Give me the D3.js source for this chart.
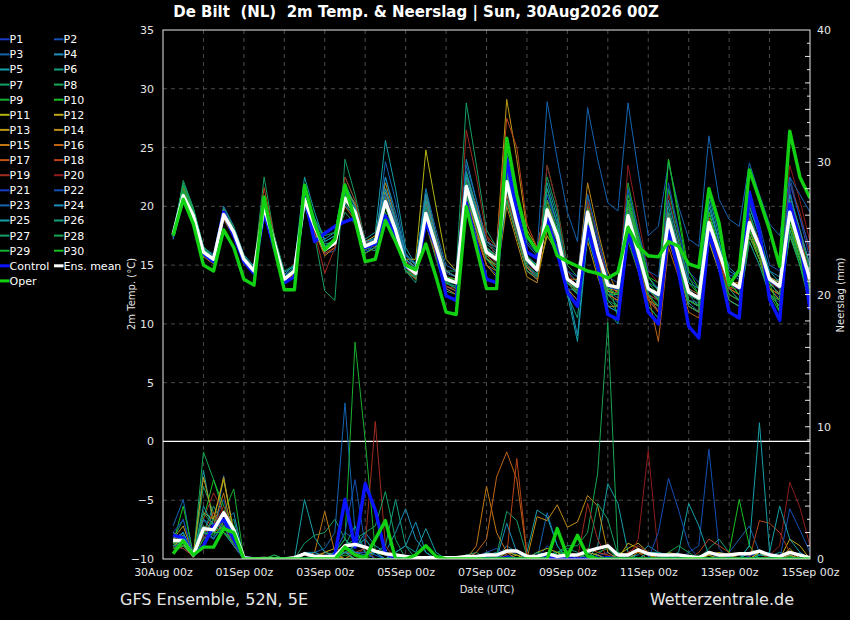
<!DOCTYPE html>
<html>
<head>
<meta charset="utf-8">
<script src="https://cdn.jsdelivr.net/npm/d3@7"></script>
<style>
  html, body { margin: 0; padding: 0; background: #000; }
  svg { display: block; font-family: "DejaVu Sans", sans-serif; }
</style>
</head>
<body>
<script>
// forecast steps, hours after 30Aug 00z
const hours = d3.range(6, 385, 6);
const dayTicks = [0, 48, 96, 144, 192, 240, 288, 336, 384];
const dayLabels = ["30Aug 00z", "01Sep 00z", "03Sep 00z", "05Sep 00z", "07Sep 00z",
  "09Sep 00z", "11Sep 00z", "13Sep 00z", "15Sep 00z"];
const tempTicks = [-10, -5, 0, 5, 10, 15, 20, 25, 30, 35];
const rainTicks = [0, 10, 20, 30, 40];

const memberNames = d3.range(1, 31).map(i => "P" + i);
const memberColors = ["#1a3cc8", "#1450b4", "#1464b0", "#1890b8", "#14a0a8", "#14a080", "#14a064",
  "#14a850", "#18b030", "#18c020", "#b4b414", "#c0a814", "#bc9814", "#c08c14", "#c07814",
  "#c06414", "#c05414", "#b84418", "#a02c20", "#901c1c"];

// 2m temperature (°C)
const controlTemp = [17.5, 20.8, 19.0, 16.0, 15.3, 19.5, 17.5, 15.3, 14.3, 19.5, 16.5, 13.5, 14.0, 20.8, 17.0, 17.7,
  18.3, 18.7, 19.0, 16.5, 16.8, 19.2, 17.5, 14.9, 14.4, 18.6, 16.6, 12.4, 12.0, 20.3, 16.9, 13.8,
  13.5, 24.0, 19.5, 16.1, 15.6, 18.9, 16.1, 12.7, 11.5, 18.3, 14.9, 10.8, 10.4, 17.8, 14.9, 11.0,
  10.0, 18.0, 14.4, 9.8, 8.8, 17.8, 14.9, 11.0, 10.5, 21.2, 17.8, 12.1, 10.3, 20.2, 17.2, 11.2];
const meanTemp = [17.6, 20.9, 19.2, 16.1, 15.5, 19.3, 17.8, 15.5, 14.5, 20.0, 16.9, 13.8, 14.5, 20.6, 18.3, 16.3,
  16.9, 20.7, 19.5, 16.6, 17.0, 20.4, 18.0, 15.0, 14.3, 19.4, 16.6, 13.8, 13.5, 21.7, 18.9, 16.1,
  15.5, 22.1, 18.6, 15.5, 14.6, 19.7, 17.5, 13.8, 13.2, 19.5, 16.1, 13.3, 13.1, 19.2, 16.1, 13.0,
  12.5, 18.9, 15.8, 12.7, 12.2, 18.6, 16.1, 13.6, 13.1, 18.6, 16.6, 13.8, 13.2, 19.5, 16.6, 13.8];
const operTemp = [17.5, 20.6, 18.5, 15.0, 14.5, 18.0, 16.5, 13.8, 13.3, 20.8, 16.5, 12.9, 12.9, 21.8, 18.5, 16.3,
  17.2, 21.8, 18.8, 15.3, 15.5, 18.8, 17.0, 15.0, 14.6, 16.8, 14.0, 11.0, 10.8, 20.0, 16.5, 13.0,
  13.0, 25.8, 21.0, 17.5, 16.2, 18.3, 15.8, 15.3, 14.9, 14.5, 14.3, 13.9, 14.4, 18.2, 16.6, 15.8,
  15.7, 17.0, 16.6, 15.1, 14.8, 21.5, 18.6, 13.3, 14.6, 23.1, 20.6, 18.0, 14.9, 26.4, 22.5, 20.7];
const memberTemp = [
  "17.3 20.5 18.8 15.8 15.2 19.0 17.4 15.2 14.2 19.8 16.6 13.5 14.2 20.2 17.8 16.5 17.2 20.2 19.0 16.2 16.5 21.5 18.5 15.2 14.0 18.5 16.0 13.2 12.8 20.5 17.8 15.0 14.2 21.0 17.5 14.8 13.8 20.5 17.8 13.5 12.5 21.0 17.0 13.8 12.5 18.0 15.2 12.0 11.2 17.5 14.8 12.0 11.5 19.5 16.5 13.0 12.0 20.5 17.5 13.0 12.2 21.5 17.0 12.5",
  "17.8 21.2 19.5 16.3 15.7 19.8 18.0 15.6 14.6 20.3 17.2 14.1 14.8 21.0 18.6 16.0 16.2 21.0 19.8 16.8 17.3 22.5 19.0 15.5 14.8 20.2 17.2 14.3 14.0 22.5 19.5 16.2 15.8 23.5 19.5 15.8 14.8 21.0 18.0 13.0 12.0 18.5 15.0 12.5 12.0 20.5 17.5 14.0 13.0 21.5 18.0 14.5 13.5 17.5 14.5 12.0 11.5 17.0 15.0 12.5 11.8 22.5 19.0 15.5",
  "17.5 21.0 19.3 16.2 15.4 19.5 17.9 15.4 14.4 19.6 16.8 14.0 14.9 20.8 18.9 17.0 17.5 20.0 19.2 16.0 16.8 23.8 20.5 16.0 14.5 18.8 15.8 13.0 12.5 21.0 18.5 15.5 15.0 22.5 18.8 15.5 15.0 19.0 16.5 13.0 12.8 20.0 16.5 12.8 12.2 18.5 15.5 12.5 11.5 19.0 15.5 12.0 11.8 18.0 16.0 14.2 13.8 19.5 17.0 14.0 13.5 18.5 15.5 13.0",
  "17.2 21.5 19.8 16.5 15.9 20.0 18.3 15.9 14.9 20.5 17.5 14.4 14.9 21.5 19.0 17.2 17.8 21.8 20.2 17.0 17.2 21.0 18.5 14.8 13.8 19.8 16.8 13.5 13.0 24.0 20.5 17.0 16.2 24.5 20.5 16.8 15.8 22.0 19.0 14.5 13.5 19.0 15.8 12.8 11.8 20.0 16.8 13.2 12.0 18.0 15.0 11.8 11.0 21.0 17.5 14.8 14.0 17.5 15.5 13.5 13.8 20.0 17.0 14.5",
  "17.9 21.8 19.6 16.4 15.8 19.6 18.0 15.6 14.8 20.2 17.0 14.2 15.0 22.5 19.5 17.0 17.5 21.5 20.2 17.2 17.8 25.6 21.5 16.5 15.0 21.0 17.5 14.5 14.0 22.0 19.0 16.0 15.2 21.5 18.0 15.0 14.2 20.5 18.0 13.0 11.5 17.5 14.5 11.5 11.0 19.5 16.0 12.8 12.2 19.5 16.5 13.0 12.5 20.5 17.0 14.0 13.0 19.0 17.0 14.5 13.5 19.5 17.5 15.0",
  "17.7 21.0 19.1 16.0 15.3 19.0 17.5 15.3 14.3 20.0 16.7 13.7 14.0 20.0 18.0 16.8 17.0 22.0 20.0 16.5 16.2 20.0 17.5 14.5 13.5 19.0 16.2 13.5 13.5 23.0 20.0 16.8 16.0 22.0 18.5 15.2 14.5 21.5 18.5 12.5 10.5 18.5 15.5 12.0 11.0 21.5 17.5 14.0 12.8 20.0 16.5 12.5 11.5 17.0 14.5 12.5 12.0 18.0 16.0 13.5 12.5 19.0 16.0 13.0",
  "17.4 22.2 19.9 16.6 15.6 19.8 18.2 15.8 14.8 22.5 17.5 14.0 14.3 21.8 17.5 12.8 12.0 24.0 21.0 17.0 17.5 21.0 18.0 14.8 14.5 21.5 17.5 14.5 14.5 28.8 23.5 18.0 16.5 23.0 19.0 15.5 14.5 19.0 17.0 13.5 13.0 18.0 15.0 12.0 11.5 19.0 16.0 12.5 12.0 18.5 15.5 12.0 11.5 19.0 16.5 13.0 12.5 18.0 16.0 13.0 12.0 19.0 16.0 12.0",
  "17.6 20.8 19.0 16.2 15.6 19.2 17.6 15.4 14.5 19.5 16.5 13.8 14.8 20.5 18.8 17.5 17.8 22.5 20.5 16.8 16.5 19.5 17.0 14.5 13.8 18.5 15.5 12.8 12.5 21.5 18.5 15.5 14.5 20.5 17.5 14.5 13.8 23.5 20.0 15.0 14.0 21.0 17.5 14.0 10.5 17.0 14.5 11.5 10.5 18.5 15.0 12.0 11.5 18.5 16.0 13.5 12.5 20.0 17.5 14.0 13.0 21.0 18.0 14.5",
  "17.5 21.3 19.4 16.1 15.5 19.4 17.7 15.5 14.4 20.4 17.1 13.9 14.5 20.8 18.5 16.5 16.8 20.5 19.5 16.5 17.0 20.8 18.2 15.2 14.2 19.5 16.5 13.8 13.8 20.0 17.5 15.8 15.5 22.5 18.5 15.5 15.0 18.5 16.5 13.5 13.0 20.5 16.5 13.0 12.5 22.0 18.0 14.0 12.8 21.5 17.5 13.5 12.5 18.0 15.5 13.0 12.5 17.5 15.5 13.0 12.5 17.5 15.0 12.5",
  "17.6 21.6 19.6 16.3 15.6 19.5 17.9 15.6 14.6 20.1 17.0 13.9 14.6 20.4 18.2 16.2 17.0 20.5 19.2 16.4 16.8 20.2 17.8 14.8 14.2 19.2 16.4 13.6 13.4 21.5 18.8 16.0 15.4 22.0 18.5 15.4 14.5 19.5 17.5 13.8 13.0 19.0 16.0 13.0 13.0 21.0 17.5 14.0 13.5 24.0 19.0 14.0 12.5 19.5 16.5 13.5 12.5 19.5 16.5 13.0 12.0 20.0 16.5 13.0",
  "17.4 20.5 18.9 15.9 15.3 19.1 17.6 15.3 14.3 20.0 16.8 13.7 14.4 20.6 18.2 16.2 17.0 21.0 19.8 16.8 17.0 20.8 18.5 15.5 15.5 24.8 20.0 15.5 14.5 21.0 18.0 15.5 15.0 20.5 17.5 14.8 14.0 17.5 16.0 13.5 13.0 18.5 15.5 12.8 12.5 20.0 16.5 13.0 12.5 19.5 16.0 12.5 12.0 18.5 16.0 13.5 13.0 18.0 15.5 13.0 12.5 17.5 15.5 13.5",
  "17.7 21.1 19.3 16.2 15.6 19.4 17.8 15.5 14.5 20.2 17.0 13.8 14.5 20.5 18.3 16.4 17.0 20.5 19.5 16.8 17.2 21.2 18.8 15.5 14.8 20.5 17.2 14.0 13.5 22.0 19.2 16.5 15.8 23.0 19.0 15.5 14.8 20.0 17.5 13.5 12.5 18.0 15.5 13.0 12.8 20.5 17.0 13.0 12.0 18.0 15.5 12.5 12.0 17.5 15.0 13.0 13.5 18.5 16.5 14.0 13.5 18.5 16.0 13.5",
  "17.5 20.7 19.0 16.0 15.4 19.2 17.7 15.4 14.4 19.9 16.8 13.7 14.4 20.4 18.2 16.3 16.9 20.5 19.3 16.5 16.9 20.3 17.9 15.0 14.3 19.5 16.8 14.0 13.8 22.5 20.0 17.0 16.5 29.1 24.0 18.0 16.5 20.5 17.0 13.5 12.5 17.0 14.0 11.5 11.5 18.0 15.0 12.0 11.5 18.0 15.0 12.0 11.5 19.5 16.5 13.5 13.5 19.0 16.5 13.5 12.5 18.5 16.0 13.0",
  "17.8 21.4 19.5 16.3 15.7 19.7 18.0 15.7 14.7 20.5 17.2 14.0 14.6 20.8 18.5 16.5 17.2 21.5 20.2 17.0 17.5 22.0 19.0 15.8 15.0 21.0 17.5 14.5 14.0 21.0 18.0 15.0 14.0 20.0 17.0 14.0 13.5 18.0 16.5 13.8 13.8 22.0 18.0 14.5 12.5 17.5 14.5 11.0 10.0 17.0 14.5 11.5 11.0 17.0 14.5 12.0 11.5 17.5 15.5 12.5 11.5 18.0 15.5 12.5",
  "17.3 20.3 18.7 15.7 15.1 18.9 17.4 15.2 14.2 19.7 16.5 13.5 14.2 20.2 17.8 15.8 16.5 20.0 18.8 16.0 16.5 20.0 17.5 14.8 14.0 19.0 16.2 13.2 12.8 20.5 18.0 15.5 14.8 21.5 18.0 14.8 14.0 19.0 17.0 13.0 12.0 18.5 15.5 12.5 12.0 19.5 16.0 12.5 11.0 17.5 14.5 11.5 11.0 18.5 15.5 12.5 12.0 17.5 15.5 13.0 12.5 20.0 17.5 14.0",
  "17.6 21.0 19.2 16.1 15.5 19.3 17.8 15.5 14.5 20.0 16.9 13.8 14.5 20.6 18.4 16.4 17.0 20.8 19.5 16.6 16.8 20.0 17.6 14.5 13.8 18.5 15.8 13.0 12.5 20.0 17.5 15.0 14.5 21.0 17.5 14.5 13.8 19.5 17.5 13.5 12.8 19.0 16.0 13.5 13.0 20.0 16.5 12.5 8.5 16.5 14.0 11.0 10.5 18.0 15.5 13.0 12.5 18.5 16.0 13.0 12.0 19.5 16.5 13.5",
  "17.4 20.9 19.1 16.0 15.4 19.2 17.7 15.4 14.4 19.8 16.7 13.6 14.3 20.3 18.2 16.2 16.8 20.5 19.2 16.3 16.8 21.0 18.5 15.5 14.5 20.0 17.0 14.0 13.8 21.5 18.5 15.8 15.0 22.5 19.0 15.5 14.5 20.0 17.5 13.8 13.0 19.0 15.5 12.5 12.0 19.0 15.5 12.0 11.0 18.0 15.0 12.0 11.5 19.0 16.0 13.0 12.5 18.5 16.0 13.0 12.5 19.5 16.5 13.5",
  "17.6 21.5 19.5 16.2 15.6 19.5 17.9 15.6 14.6 21.6 17.5 14.0 14.5 20.5 18.0 16.0 16.5 21.0 19.8 17.0 17.0 20.5 18.0 15.0 14.5 20.5 17.5 14.5 14.0 22.5 20.0 17.5 16.5 27.5 25.0 18.5 16.5 20.5 17.5 14.0 12.5 20.0 16.5 13.0 12.5 20.0 16.5 13.0 12.0 19.5 16.5 13.0 12.5 19.0 16.0 13.0 13.5 19.0 17.0 14.0 13.0 20.5 18.0 15.0",
  "17.5 20.6 19.0 16.0 15.4 19.1 17.6 15.4 14.4 20.0 16.8 13.8 14.3 20.0 17.8 14.3 16.5 22.5 20.5 17.0 16.5 21.5 19.0 15.5 14.0 19.0 16.0 13.2 13.0 26.5 22.5 17.5 15.5 21.5 18.0 15.0 14.0 20.5 18.0 14.0 13.0 19.5 16.5 13.0 12.5 19.0 16.0 12.5 12.0 18.5 15.5 12.5 12.0 18.5 16.0 13.0 13.0 18.5 16.5 13.5 13.0 22.0 19.5 16.0",
  "17.7 21.0 19.3 16.1 15.5 19.4 17.8 15.5 14.5 20.1 17.0 13.9 14.5 20.6 18.3 16.3 16.9 20.6 19.4 16.5 17.0 20.5 18.2 15.2 14.5 20.0 17.0 14.0 13.8 22.0 19.0 16.0 15.2 22.0 18.5 15.0 14.5 23.5 20.0 14.5 13.0 20.5 17.5 13.5 12.5 23.5 19.0 14.5 13.5 21.0 17.0 13.0 12.0 18.0 15.5 12.5 12.0 18.0 16.0 13.5 13.0 23.5 20.5 17.0",
  "17.4 20.7 19.0 16.0 15.4 19.1 17.6 15.4 14.4 19.9 16.8 13.7 14.4 20.5 18.2 16.2 16.8 20.5 19.3 16.4 16.8 20.2 17.9 14.9 14.2 19.2 16.5 13.7 13.4 21.5 18.7 16.0 15.4 21.8 18.4 15.3 14.4 19.5 17.3 13.6 13.0 19.2 15.9 13.1 12.9 19.0 15.9 12.8 12.3 18.7 15.6 12.5 12.0 18.4 15.9 13.4 12.9 18.4 16.4 13.6 13.0 19.3 16.4 13.6",
  "17.8 21.3 19.4 16.3 15.7 19.6 18.0 15.7 14.7 20.3 17.1 14.0 14.6 20.7 18.5 16.5 16.8 21.0 19.5 16.5 17.0 21.0 18.5 15.5 14.5 19.5 16.5 13.5 13.2 21.0 18.5 16.0 15.5 21.5 18.0 15.0 14.0 21.0 18.5 14.5 14.0 21.0 17.5 14.0 13.5 21.5 18.0 14.5 14.0 22.0 18.0 14.0 13.0 20.0 17.0 14.0 14.5 21.0 18.5 15.0 14.5 22.0 19.0 16.5",
  "17.2 20.9 19.2 16.1 15.4 19.4 17.8 15.5 14.5 20.2 17.0 13.9 14.6 20.7 18.5 16.5 17.0 21.0 19.8 16.8 17.2 21.5 19.0 15.8 15.0 21.5 18.0 15.0 14.5 23.5 20.5 17.0 16.5 24.0 20.5 17.0 16.0 28.9 24.0 19.5 17.0 28.4 24.0 20.3 19.6 28.8 23.0 17.5 18.3 23.7 20.0 17.2 16.6 26.0 20.6 18.9 18.3 23.7 21.0 18.5 17.5 22.5 21.0 19.5",
  "17.6 21.1 19.3 16.2 15.6 19.4 17.8 15.5 14.5 20.2 17.0 13.9 14.6 20.8 18.6 16.6 17.2 21.5 20.0 17.0 17.3 22.5 19.5 16.0 15.0 21.0 17.5 14.5 14.0 22.5 19.5 16.5 15.8 22.5 19.0 15.8 15.0 20.0 17.5 13.0 9.0 18.0 15.0 11.5 11.0 20.5 17.0 13.5 13.0 20.5 17.0 13.5 13.0 21.5 18.0 14.5 14.0 20.0 17.5 14.5 14.0 21.0 18.0 15.0",
  "17.5 21.0 19.2 16.1 15.5 19.3 17.8 15.5 14.5 20.0 16.9 13.8 14.5 21.0 18.7 16.5 17.2 21.2 19.8 16.8 17.0 21.5 18.8 15.5 14.8 20.5 17.0 14.0 13.5 22.8 19.8 16.5 15.5 23.0 19.0 15.5 14.5 19.5 17.0 12.5 8.5 17.5 14.5 11.0 10.0 19.0 16.0 12.5 11.5 18.0 15.0 12.0 11.5 20.0 17.0 13.5 13.0 21.0 18.0 14.0 13.0 20.5 17.0 13.5",
  "17.6 21.2 19.3 16.1 15.5 19.3 17.8 15.5 14.5 20.2 17.0 13.8 14.4 20.8 18.5 16.3 17.0 21.0 19.5 16.5 16.8 20.5 18.0 15.0 14.5 20.0 17.0 14.0 13.5 22.0 19.5 16.5 15.5 22.5 19.0 15.5 14.8 21.5 18.5 13.5 12.5 19.5 16.5 13.0 12.5 20.0 16.5 13.0 12.5 19.5 16.5 13.0 12.0 18.5 16.0 13.5 13.0 18.0 16.0 13.5 12.5 18.0 15.5 13.0",
  "17.5 22.0 19.8 16.5 15.5 19.6 18.0 15.7 14.6 20.5 17.5 14.5 15.0 20.0 17.5 16.5 17.0 19.5 18.5 16.0 16.5 20.0 17.5 14.5 14.0 19.5 16.5 13.5 13.0 21.0 18.5 15.5 14.5 20.5 17.5 14.5 14.0 22.5 19.5 14.0 12.5 19.5 16.0 12.5 11.5 18.0 15.0 11.5 10.5 17.5 15.0 11.5 11.0 17.5 15.0 12.0 11.5 17.0 15.0 12.5 11.5 17.5 15.0 12.0",
  "17.7 21.8 19.6 16.3 15.6 19.5 17.9 15.6 14.6 20.3 17.1 13.9 14.6 20.5 18.3 16.3 16.8 20.3 19.0 16.3 16.8 20.0 17.6 14.6 14.0 19.0 16.2 13.4 13.2 21.0 18.3 15.6 15.0 21.5 18.2 15.0 14.2 20.0 17.8 13.5 12.5 19.5 16.0 12.5 12.5 19.5 16.5 13.0 12.0 19.0 16.0 12.5 12.0 19.5 16.5 13.0 12.0 19.5 16.5 12.5 11.0 18.0 15.0 11.5",
  "17.5 21.4 19.5 16.2 15.6 19.6 18.0 15.6 14.5 20.3 17.1 14.0 14.6 20.7 18.4 16.4 17.0 20.8 19.6 16.7 17.1 20.6 18.2 15.2 14.5 19.5 16.8 14.0 13.8 22.0 19.2 16.3 15.8 22.5 19.0 15.8 14.8 20.5 18.0 14.0 12.8 18.8 15.8 13.0 12.5 18.5 15.5 12.5 11.5 18.0 15.0 12.0 11.5 17.5 15.0 12.5 12.0 17.5 15.5 12.5 12.0 19.0 16.0 12.5",
  "17.6 21.1 19.3 16.1 15.5 19.4 17.8 15.5 14.5 20.1 17.0 13.9 14.5 20.6 18.3 16.3 16.9 20.7 19.5 16.6 17.0 20.4 18.0 15.0 14.3 19.4 16.6 13.8 13.5 21.7 18.9 16.1 15.5 22.0 18.5 15.5 14.5 19.5 17.5 13.8 13.2 19.8 16.3 13.4 13.0 20.5 17.0 13.5 12.5 24.0 19.5 14.5 13.0 19.5 16.5 13.5 12.5 18.0 16.0 13.5 11.0 18.5 15.5 12.0"
];

// 6-hourly precipitation (mm)
const controlRain = [1.8, 1.6, 0.3, 1.0, 2.5, 3.0, 1.5, 0.1, 0, 0, 0, 0, 0, 0, 0, 0,
  0.3, 4.5, 0.9, 5.7, 3.7, 0.4, 0.1, 0, 0, 0, 0, 0, 0, 0, 0, 0.1,
  0, 0.1, 0, 0, 0, 0.1, 0, 0, 0, 0, 0, 0.1, 0, 0, 0, 0,
  0, 0, 0, 0, 0, 0, 0, 0, 0, 0, 0, 0, 0, 0, 0, 0];
const meanRain = [1.4, 1.4, 0.3, 2.3, 2.2, 3.5, 2.2, 0.1, 0, 0.05, 0, 0, 0.1, 0.4, 0.2, 0.2,
  0.2, 1.0, 1.1, 0.9, 0.6, 0.4, 0.3, 0.2, 0.1, 0.1, 0.1, 0.1, 0.1, 0.2, 0.2, 0.3,
  0.3, 0.6, 0.6, 0.2, 0.2, 0.4, 0.2, 0.3, 0.3, 0.6, 0.8, 1.0, 0.3, 0.3, 0.7, 0.4,
  0.3, 0.3, 0.3, 0.2, 0.1, 0.5, 0.3, 0.3, 0.4, 0.4, 0.6, 0.3, 0.2, 0.5, 0.3, 0.1];
const operRain = [0.4, 1.4, 0.3, 0.9, 0.9, 2.3, 2.0, 0, 0, 0, 0, 0, 0, 0, 0, 0,
  0, 0.9, 0.3, 0.1, 1.5, 2.9, 0, 0, 0.3, 1.0, 0.2, 0, 0, 0, 0, 0,
  0, 0, 0, 0, 0, 0, 2.3, 0.2, 1.8, 0.2, 0, 0, 0, 0, 0, 0,
  0, 0, 0, 0, 0, 0, 0, 0, 0, 0, 0, 0, 0, 0, 0, 0];
const memberRain = [
  "1.0 0.8 0.2 1.5 3.0 2.0 1.0 0 0 0 0 0 0 0.3 0 0 0 0.5 1.0 1.5 0.5 0 0 0 0 0 0 0 0 0 0.2 0.5 0.3 0 0 0 0 0.2 0.5 0.3 0 0 0.2 0.5 0 0.3 0.8 0.2 0 0 0 0.1 0 0.3 0.5 0.2 0 0.2 0.5 0 0 0.3 0 0",
  "1.5 2.0 0.3 3.0 2.5 4.5 1.5 0 0 0 0 0 0 0.5 0.3 0 0.5 2.0 1.5 0.5 0.3 0 0 0 0 0 0 0 0 0 0 0.5 0.8 0.3 0 0 0 1.0 0.3 0 0 0.5 0.3 1.0 0 0 0 0 0 0 0 0.5 1.0 8.3 0.8 0 0 0.5 0 0 0 0 0 0",
  "2.5 4.5 0.2 2.0 1.5 6.3 1.8 0 0 0 0 0 0 0 0.5 0.8 2.0 11.8 2.0 0.5 0 0 0.3 0 0 0 0 0 0 0 0 0 0 0 0.5 0 0 3.5 1.0 0 0 0 0.3 0 0 0.3 0 0 0 0 0 0 0 0 0 0.5 1.5 2.5 0.5 0 0 0.3 0 0",
  "0.8 1.2 0.1 2.5 1.5 2.8 3.5 0 0 0 0 0 0 0.3 0.5 0.2 0.5 1.5 0.8 2.0 1.0 0.5 2.0 3.8 1.5 0.5 0 0 0 0 0 0 0 1.0 0.5 0.3 0 0 0.5 0 0 0 0 0 0.5 0.2 0.3 1.0 0.5 0 0 0.3 0 0 0 0 0 0 0.3 0.5 0 0 0.5 0",
  "1.2 2.0 0.2 6.7 2.5 3.0 1.5 0 0 0 0 0 0 0 0 0 0 0.5 0 0 0 0 0.5 1.0 0.5 2.3 0.5 0 0 0 0 0.3 0.5 0 0 0.5 3.7 3.2 1.0 0 0 0 1.0 5.7 4.2 0.5 0 0 0 0.2 0.5 4.2 2.5 0.3 0 0 0 0.5 0.3 0.2 0.5 0.3 0 0",
  "1.8 1.5 0.3 2.0 4.0 2.5 3.0 0 0 0 0 0 0 0.5 0 0 0 1.0 2.5 0.5 0 0 0 0 0 0 0 0 0 0.3 0.5 0 0 0.5 0.3 0 0 0 0.5 0.8 0.5 0 0 0 0 0 0 0.5 0 0 0 0 0 0.8 1.5 0.5 0 1.0 0 0 0 0 0 0",
  "1.5 3.0 0.2 5.5 3.5 2.0 1.0 0 0 0 0 0 0 1.2 1.8 2.0 3.0 1.5 0.5 0 0 0 0 0 0 0 0 0 0 0 0 0.5 0.3 3.6 2.9 0.2 0 0 0 0 0 0.5 0 0 0 0 0 0 0 0 0 0 0 0.5 0.2 0 0 0 0 0 0 0 0 0",
  "1.0 1.5 0.2 8.1 6.0 3.5 2.0 0 0 0 0 0 0 0 0 0 0 0 0 0 0 0 0 0 0 0 0 0 0 0 0 0 0 0 0 0 0.5 0.3 0.5 1.0 1.0 2.0 6.5 17.9 0.5 0.3 0 0 0 0 0 0 0 0 0 0 0 0 0 0 0 0 0 0",
  "0.5 1.0 0.2 2.0 2.0 3.5 5.3 0 0 0 0.3 0 0 0 0 0 0.5 1.5 16.4 9.0 0.5 0 0 0 0 0 0 0 0 0 0 0 0 0 0 0 0 0 0.5 0.5 0 0 0.5 0.8 0 0 0 0 0 0 0 0 0.3 0 0 0 0 0 0 0 0 0.5 0.3 0",
  "1.2 4.0 0.3 3.0 6.0 4.0 2.5 0 0 0 0 0 0 0 0 0 0 0.3 0 0 0.5 0.3 0 0 0 0 0 0 0 0 0 0 0 0 0 0 0 0 0.3 0.5 0 0.5 0 0 0 0 0 0 0 0 0 0 0 0 0 0.5 4.5 1.0 0 0 0 0.2 0 0",
  "1.0 1.5 0.2 3.5 3.0 6.0 2.0 0 0 0 0 0 0 0 0 0 0 0 0.5 0.5 0.5 0.3 0 0 0 0 0 0 0 0 0 0 0 0 0.3 0 0.5 0.8 0.5 0 0 0 0 0 0.3 0.8 1.2 0.5 0 0 0 0 0 0.3 0.5 0.3 0 0 0.5 0 0 0.8 0 0",
  "0.8 1.0 0.2 2.5 2.0 3.0 1.5 0 0 0 0 0 0 0 0 0.5 0.8 0.5 0 0 0 0 0 0 0 0 0 0 0 0 0 0 0 0 0 0 0 0 0 0 0 0.5 0.3 0 0 1.2 0.8 0.3 0 0.5 0.3 0 0 0.3 0 0 0 0 0.5 0.3 0 1.5 1.0 0",
  "1.5 2.5 0.3 6.2 3.0 6.2 2.0 0 0 0 0 0 0 0 0 0 0 0.5 0.3 0 0 0 0 0 0 0 0 0 0 0 0 0 0 0.5 0.3 0 0 0 0 0 0 0 0 0 0 0 0.5 0.3 0 0 0 0 0 0 0.3 0 0 0 0 0 0 0.3 0 0",
  "1.0 1.2 0.1 1.5 2.0 2.5 1.0 0 0 0 0 0 0 0.3 0.2 0.5 0.3 0 0 0 0 0 0 0 0 0 0 0 0 0 0 0 0 0 0 0 3.2 2.9 4.1 2.4 2.8 4.8 4.0 0.5 0 0 0 0 0 0 0 0 0 0 0 0 0 0 0 0 0 0 0 0",
  "2.0 1.5 0.3 2.0 2.5 5.0 1.5 0 0 0 0 0 0 0 0.5 3.6 0.5 0 0 0 0 0 0 0 0 0 0 0 0 0 1.0 5.5 2.0 0.5 0 0 0 0 0 0 0 0 0 0 0 0 0 0 0 0 0 0 0 0 0 0 0 0 0 0 0 0 0 0",
  "1.2 1.0 0.2 1.8 3.0 2.0 1.5 0 0 0 0 0 0 0 0 0 0 0 0 0 0 0 0 0 0 0 0 0 0 0 0.5 1.5 6.2 8.1 6.0 0.3 0 0 0 0 0 0 0 0 0 0.5 0.5 0 0 0 0 0 0 0 0 0 0 0 0 0 0 0.5 0.3 0",
  "1.5 1.8 0.2 2.5 2.0 3.0 1.8 0 0 0 0 0 0 0 0 0 0 0.5 0.5 0 0 0 0 0 0 0 0 0 0 0 0 0 0 0 0 0 0 0 0 0 0 0.8 0.5 0.3 0 0 0 0 0 0 0 0 0 0.5 0.3 0 0 0 0 0 0 0 0 0",
  "1.0 0.8 0.2 2.0 3.5 2.5 1.2 0 0 0 0 0 0 0 0 0 0 0 0.5 0.8 0 0 0 0 0 0 0 0 0 0 0 0 0 0.3 7.6 0.3 0 0 0 0 0 0 0 0 0 0 0 0 0 0 0 0 0.5 1.5 1.0 0.5 0 0 2.9 2.7 2.0 0.5 0 0",
  "1.5 1.2 0.3 3.0 5.0 3.5 2.0 0 0 0 0 0 0 0 0 0 0 0 0 1.0 10.4 1.0 0 0 0 0 0 0 0 0 0 0 0 0 0 0 0 0 0 0 0 4.2 1.5 0 0 0.5 1.0 0.5 0 0 0 0 0 0 0 0 0 0 0 0 0 0 0 0",
  "0.8 1.0 0.1 1.5 2.5 4.0 2.0 0 0 0 0 0 0 0 0 0 0 0 0 0 0 0 0 0 0 0 0 0 0 0 0 0 0 0 0 0 0 0 0 0 0 0 0 0 0 0 1.5 8.2 0.3 0 0 0 0 0 0 0 0 0 0 0.3 1.0 5.8 3.9 1.0",
  "2.0 3.0 0.2 1.5 2.0 3.0 1.5 0 0 0 0 0 0 0 0 0 0 1.0 0.5 0.5 0 0 0 0 0 0 0 0 0 0 0 0 0 0 0 0 0 0.5 0 0 0 0 0 0 0 0 0 0 0 0 0 0 0 0 0 0 0 0 0 0 0 0 0 0",
  "0.8 1.5 0.2 2.0 2.0 3.5 1.5 0 0 0 0 0 0 0 0 0 0.5 2.0 6.0 1.0 0.3 0 0 0 0 0 0 0 0 0 0 0 0 0 0 0 0 0 0 0 0 0 0 0 0 0 0 0 2.0 6.1 3.7 1.0 0 0.5 0 0 0 0 0 0 0 3.8 2.2 0.5",
  "1.0 1.8 0.2 2.0 1.5 2.5 1.0 0 0 0 0 0 0 0.5 0.3 0 0 0.5 0.3 0 0 0 0 0 0 0 0 0 0 0 0 0 0 0 0 0 0 0 0 0 0 0 0 0 0 0 0 0 0 0 0 0 0 0 0 0 0 0 0 0 0 0 0 0",
  "1.5 2.0 0.3 3.0 2.0 3.5 1.5 0 0 0 0 0 0 0.5 0.5 0 0.3 1.0 0.5 0.3 0.5 0 0.5 1.0 2.8 0.5 0 0 0 0 0 0 0 2.7 0.5 0 0 0 0 0 0 0 0 0 0 0 0 0 0 0 0 0 0 0 0 0 0 0 0 0 0 0 0 0",
  "2.0 1.5 0.2 4.0 2.5 3.0 2.0 0 0 0 0 0 0 4.5 1.6 0.5 0.3 0.5 0 0 0 0 0 0 0 0 0 0 0 0 0 0 0 0 0 0 0 0 0 0 0 0 0 0 0 0 0 0.5 0.5 0.3 0 0 0 0 0 0 0 1.0 10.3 0.5 4.0 1.5 0.5 0",
  "1.0 1.2 0.2 2.5 2.0 3.0 1.5 0 0 0 0 0 0 0 0 0 0 0.5 1.0 1.5 0.5 1.0 4.5 1.0 0 0 0 0 0 0 0 0 0 0 0 0 0.5 0 0 0 0 0.5 0 0 0 0 0 0 0 0 0 0 0 0 0 0 0 0 0 0 0 0 0 0",
  "1.5 1.0 0.3 3.5 2.5 2.0 1.5 0 0 0 0 0 0 0 0 0 0 1.0 1.5 2.0 2.5 5.1 1.5 0 0 0 0 0 0 0 0 0 0 0 0 0 0 0 0 0 0 0.3 4.2 3.0 0.3 0 0 0 0 0 0 0 0 0 0 0 0 0 0 0 0 0 0 0",
  "1.2 1.5 0.2 2.0 3.0 2.5 1.5 0 0 0 0.3 0 0 0 0 0 0 0 0 0 0 0 0 0 0 0 0 0 0 0 0 0 0 0 0 0 0 0 0 0 0 0 0 0 0 0 0 0 0 0.5 1.0 0.5 0 0 0 0 0 0 0 0 0 0 0 0",
  "1.0 1.8 0.2 2.0 1.8 2.5 1.8 0 0 0 0 0 0 0 0 0 0 0 0 0 0 0 0 0 0 0 0 0 0 0 0 0 0 0 0 0 0 0 0 0 0 0 0 0 0 0 0 0 0 0 0 0 0 0 0 0 0 0 0 0 0 0 0 0",
  "0.8 1.0 0.2 1.5 2.0 2.0 1.2 0 0 0 0 0 0 0 0 0 0 0 0 0 0 0 0 0 0 0 0 0 0 0 0 0 0 0 0 0 0 0 0 0 0 0 0 0 0 0 0 0 0 0 0 0 0 0 0 0 0 0 0 0 0 0 0 0"
];

const parse = s => s.trim().split(/\s+/).map(Number);
const members = memberNames.map((name, i) => ({
  name,
  color: memberColors[i % 20],
  temp: parse(memberTemp[i]),
  rain: parse(memberRain[i])
}));

const W = 850, H = 620;
const L = 163, R = 810, T = 30, B = 559;

const svg = d3.select("body").append("svg").attr("width", W).attr("height", H);
svg.append("rect").attr("width", W).attr("height", H).attr("fill", "#000");

const x = d3.scaleLinear().domain([0, 384]).range([L, R]);
const yT = d3.scaleLinear().domain([-10, 35]).range([B, T]);
const yP = d3.scaleLinear().domain([0, 40]).range([B, T]);

svg.append("defs").append("clipPath").attr("id", "plot")
  .append("rect").attr("x", L).attr("y", T).attr("width", R - L).attr("height", B - T);

// grid
const grid = svg.append("g").attr("stroke", "#4a4a4a").attr("stroke-dasharray", "4,4");
grid.selectAll("line.v").data(d3.range(24, 384, 24)).join("line")
  .attr("x1", d => x(d)).attr("x2", d => x(d)).attr("y1", T).attr("y2", B);
grid.selectAll("line.h").data(tempTicks.filter(t => t > -10 && t < 35 && t !== 0)).join("line")
  .attr("x1", L).attr("x2", R).attr("y1", d => yT(d)).attr("y2", d => yT(d));
svg.append("line").attr("x1", L).attr("x2", R).attr("y1", yT(0)).attr("y2", yT(0))
  .attr("stroke", "#fff").attr("stroke-width", 1.2);

const plot = svg.append("g").attr("clip-path", "url(#plot)");
const lineT = d3.line().x((d, i) => x(hours[i])).y(d => yT(d));
const lineP = d3.line().x((d, i) => x(hours[i])).y(d => yP(d));

function draw(values, line, color, width) {
  plot.append("path").datum(values).attr("d", line)
    .attr("fill", "none").attr("stroke", color).attr("stroke-width", width)
    .attr("stroke-linejoin", "round");
}

members.forEach(m => { draw(m.temp, lineT, m.color, 1); draw(m.rain, lineP, m.color, 1); });
draw(controlTemp, lineT, "#0a14ff", 3.4); draw(controlRain, lineP, "#0a14ff", 3.4);
draw(meanTemp, lineT, "#ffffff", 3.4); draw(meanRain, lineP, "#ffffff", 3.4);
draw(operTemp, lineT, "#12d012", 3.4); draw(operRain, lineP, "#12d012", 3.4);

// frame
svg.append("rect").attr("x", L).attr("y", T).attr("width", R - L).attr("height", B - T)
  .attr("fill", "none").attr("stroke", "#e8e8e8").attr("stroke-width", 1);

// axes
const txt = "#e6e6e6";
const axL = svg.append("g").attr("transform", `translate(${L},0)`)
  .call(d3.axisLeft(yT).tickValues(tempTicks).tickSize(0).tickPadding(9));
const axR = svg.append("g").attr("transform", `translate(${R},0)`)
  .call(d3.axisRight(yP).tickValues(rainTicks).tickSize(0).tickPadding(7));
const axB = svg.append("g").attr("transform", `translate(0,${B})`)
  .call(d3.axisBottom(x).tickValues(dayTicks).tickFormat((d, i) => dayLabels[i]).tickSize(0).tickPadding(9));
[axL, axR, axB].forEach(a => {
  a.select(".domain").remove();
  a.selectAll("text").attr("fill", txt).attr("font-size", 11).attr("font-family", "DejaVu Sans");
});

// minor rain ticks inside the right edge
svg.append("g").selectAll("line").data(d3.range(1, 40)).join("line")
  .attr("x1", d => R - (d % 2 === 0 ? 5 : 3)).attr("x2", R)
  .attr("y1", d => yP(d)).attr("y2", d => yP(d))
  .attr("stroke", "#e8e8e8");

// titles
svg.append("text").attr("x", 416).attr("y", 17).attr("text-anchor", "middle")
  .attr("fill", "#fff").attr("font-size", 15).attr("font-weight", "bold")
  .style("white-space", "pre")
  .text("De Bilt  (NL)  2m Temp. & Neerslag | Sun, 30Aug2026 00Z");
svg.append("text").attr("transform", "translate(135,294) rotate(-90)").attr("text-anchor", "middle")
  .attr("fill", txt).attr("font-size", 10).text("2m Temp. (°C)");
svg.append("text").attr("transform", "translate(844,295) rotate(-90)").attr("text-anchor", "middle")
  .attr("fill", txt).attr("font-size", 10).text("Neerslag (mm)");
svg.append("text").attr("x", 487).attr("y", 593).attr("text-anchor", "middle")
  .attr("fill", txt).attr("font-size", 10).text("Date (UTC)");
svg.append("text").attr("x", 120).attr("y", 605).attr("fill", txt).attr("font-size", 16)
  .text("GFS Ensemble, 52N, 5E");
svg.append("text").attr("x", 794).attr("y", 605).attr("text-anchor", "end").attr("fill", txt).attr("font-size", 16)
  .text("Wetterzentrale.de");

// legend
const legendItems = members.map(m => ({ name: m.name, color: m.color }))
  .concat([{ name: "Control", color: "#0a14ff", w: 3 }, { name: "Ens. mean", color: "#fff", w: 3 },
    { name: "Oper", color: "#12d012", w: 3 }]);
const lg = svg.append("g").selectAll("g").data(legendItems).join("g")
  .attr("transform", (d, i) => `translate(${(i % 2) * 54},${39.3 + Math.floor(i / 2) * 15.1})`);
lg.append("line").attr("x1", 0).attr("x2", 9.5).attr("stroke", d => d.color).attr("stroke-width", d => d.w || 2);
lg.append("text").attr("x", 9.5).attr("dy", "0.36em").attr("fill", "#fff").attr("font-size", 11)
  .text(d => d.name);
</script>
</body>
</html>
